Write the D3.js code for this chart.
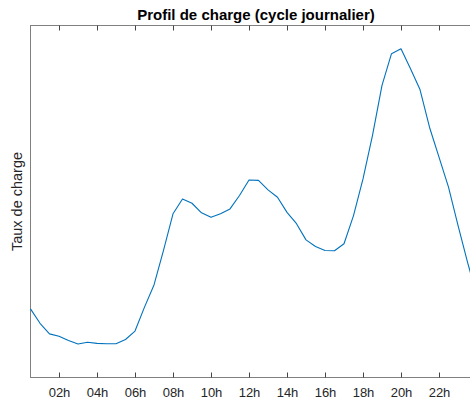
<!DOCTYPE html>
<html><head><meta charset="utf-8">
<script src="https://cdn.jsdelivr.net/npm/d3@7"></script>
<style>html,body{margin:0;padding:0;background:#fff;overflow:hidden}</style>
</head><body>
<svg id="chart" width="470" height="403"></svg>
<script>
const hours = [0.5,1,1.5,2,2.5,3,3.5,4,4.5,5,5.5,6,6.5,7,7.5,8,8.5,9,9.5,10,10.5,11,11.5,12,12.5,13,13.5,14,14.5,15,15.5,16,16.5,17,17.5,18,18.5,19,19.5,20,20.5,21,21.5,22,22.5,23,23.5,24];
const charge = [19.5,15.4,12.4,11.7,10.5,9.5,10.0,9.7,9.6,9.6,10.8,13.2,20.0,26.3,36.1,46.5,50.7,49.5,46.8,45.5,46.5,47.9,51.7,56.1,56.0,53.3,51.2,46.9,43.7,39.1,37.2,36.1,36.0,38.0,46.0,56.4,68.8,83.0,92.0,93.4,87.7,81.8,71.1,62.6,54.1,43.2,32.8,23.0];
const tickHours = [2,4,6,8,10,12,14,16,18,20,22];
const tickLabels = ["02h","04h","06h","08h","10h","12h","14h","16h","18h","20h","22h"];
const chartTitle = "Profil de charge (cycle journalier)";
const yLabel = "Taux de charge";

const svg = d3.select("#chart");
const L = 30.5, R = 486.5, T = 25.5, B = 377.5;
const x = d3.scaleLinear().domain([0.5, 24.5]).range([L, R]);
const y = d3.scaleLinear().domain([0, 100]).range([B, T]);
const font = "'Liberation Sans', Arial, Helvetica, sans-serif";
const axisCol = "#808080";

// box
svg.append("rect").attr("x", L).attr("y", T).attr("width", R - L).attr("height", B - T)
  .attr("fill", "none").attr("stroke", axisCol).attr("stroke-width", 1);

// bottom axis ticks
const bottomAxis = svg.append("g").attr("transform", `translate(0,${B})`)
  .call(d3.axisBottom(x).tickValues(tickHours).tickSizeInner(-5).tickSizeOuter(0)
    .tickFormat((d, i) => tickLabels[i]).tickPadding(10));
bottomAxis.select(".domain").remove();
bottomAxis.selectAll(".tick line").attr("stroke", "#444");
bottomAxis.selectAll(".tick text").attr("font-family", font).attr("font-size", 13).attr("fill", "#262626");

// top axis ticks
const topAxis = svg.append("g").attr("transform", `translate(0,${T})`)
  .call(d3.axisTop(x).tickValues(tickHours).tickSizeInner(-5).tickSizeOuter(0).tickFormat(""));
topAxis.select(".domain").remove();
topAxis.selectAll(".tick line").attr("stroke", "#444");

// line
svg.append("path").datum(hours.map((h, i) => [h, charge[i]]))
  .attr("fill", "none").attr("stroke", "#0072BD").attr("stroke-width", 1.1)
  .attr("stroke-linejoin", "round")
  .attr("d", d3.line().x(d => x(d[0])).y(d => y(d[1])));

// title
svg.append("text").attr("x", 256).attr("y", 19.5).attr("text-anchor", "middle")
  .attr("font-family", font).attr("font-size", 15).attr("font-weight", "bold").attr("fill", "#000")
  .text(chartTitle);

// y label
svg.append("text").attr("transform", `translate(21.5,${(T + B) / 2}) rotate(-90)`)
  .attr("text-anchor", "middle").attr("font-family", font).attr("font-size", 14.5).attr("fill", "#262626")
  .text(yLabel);
</script>
</body></html>
